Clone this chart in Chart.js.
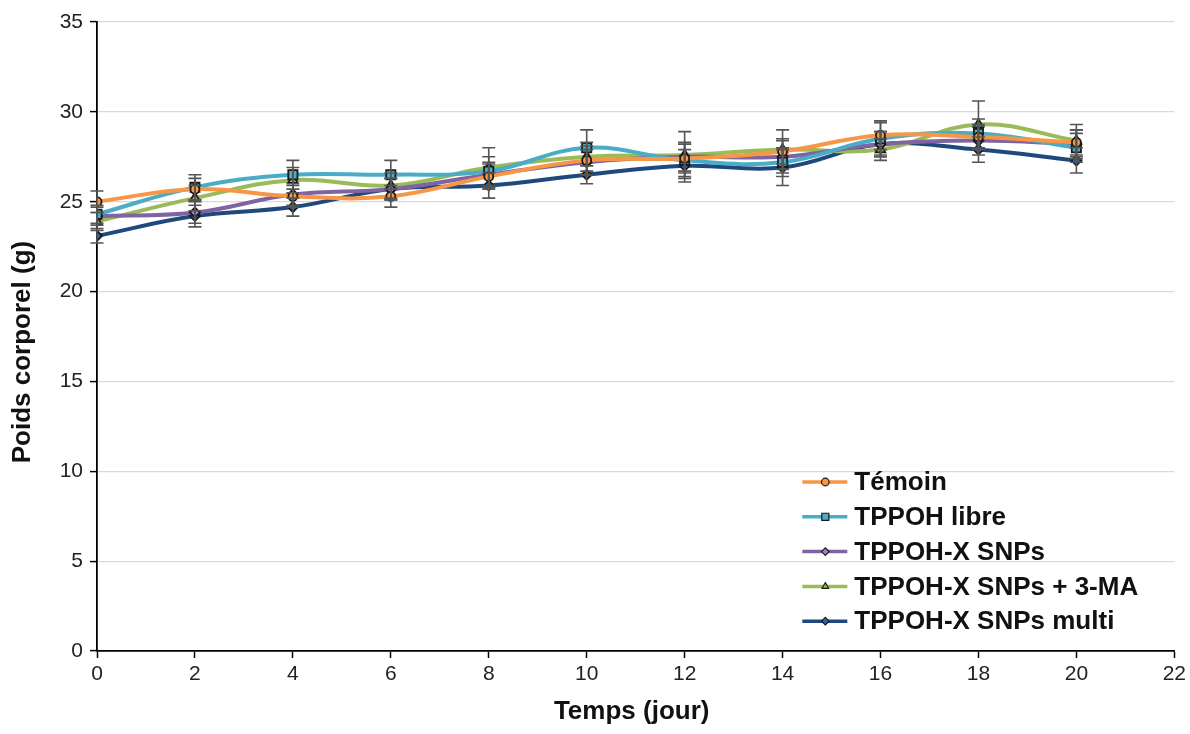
<!DOCTYPE html>
<html>
<head>
<meta charset="utf-8">
<script src="https://cdn.jsdelivr.net/npm/chart.js@4/dist/chart.umd.min.js"></script>
<style>
  html, body { margin: 0; padding: 0; background: #fff; }
  #wrap { width: 1190px; height: 734px; position: relative; }
</style>
</head>
<body>
<div id="wrap"><canvas id="weightChart"></canvas></div>
<script>
// ---------- Data ----------
var days = [0, 2, 4, 6, 8, 10, 12, 14, 16, 18, 20];

var seriesNames = ['Témoin', 'TPPOH libre', 'TPPOH-X SNPs', 'TPPOH-X SNPs + 3-MA', 'TPPOH-X SNPs multi'];

var temoin      = [25.0, 25.7, 25.3, 25.3, 26.4, 27.3, 27.4, 27.8, 28.7, 28.6, 28.3];
var tppohLibre  = [24.3, 25.8, 26.5, 26.5, 26.7, 28.0, 27.3, 27.2, 28.5, 28.8, 28.0];
var tppohX      = [24.2, 24.4, 25.4, 25.7, 26.5, 27.2, 27.5, 27.5, 28.2, 28.4, 28.2];
var tppohX3ma   = [23.9, 25.2, 26.2, 25.9, 26.9, 27.5, 27.6, 27.9, 27.9, 29.3, 28.4];
var tppohXMulti = [23.1, 24.2, 24.7, 25.7, 25.9, 26.5, 27.0, 26.9, 28.2, 27.9, 27.3];

var errTemoin      = [0.6, 0.6, 0.6, 0.6, 0.7, 0.8, 0.8, 0.7, 0.8, 0.7, 0.7];
var errTppohLibre  = [0.5, 0.7, 0.8, 0.8, 0.8, 1.0, 0.9, 0.8, 0.9, 0.8, 0.8];
var errTppohX      = [0.5, 0.6, 0.6, 0.6, 0.7, 0.7, 0.8, 0.9, 0.7, 0.8, 0.8];
var errTppohX3ma   = [0.5, 0.7, 0.7, 0.7, 1.1, 0.8, 1.3, 1.1, 0.6, 1.3, 0.9];
var errTppohXMulti = [0.4, 0.6, 0.5, 0.6, 0.7, 0.5, 0.9, 1.0, 0.7, 0.7, 0.7];

var yTicks = [0, 5, 10, 15, 20, 25, 30, 35];
var xTicks = [0, 2, 4, 6, 8, 10, 12, 14, 16, 18, 20, 22];

var xTitle = 'Temps (jour)';
var yTitle = 'Poids corporel (g)';

// ---------- Styles ----------
var colors = ['#F79646', '#4BACC6', '#8064A2', '#9BBB59', '#1F497D'];
var markerFill = ['#F79646', '#4BACC6', '#A77FC4', '#9BBB59', '#2E62A8'];
var shapes = ['circle', 'rect', 'rectRot', 'triangle', 'rectRot'];
var radii = [4.5, 6.5, 5, 5.5, 5];
var values = [temoin, tppohLibre, tppohX, tppohX3ma, tppohXMulti];
var errors = [errTemoin, errTppohLibre, errTppohX, errTppohX3ma, errTppohXMulti];

var FONT = "'Liberation Sans', Arial, sans-serif";

function toPoints(arr) {
	return arr.map(function (v, i) { return { x: days[i], y: v }; });
}

var datasets = values.map(function (arr, i) {
	return {
		label: seriesNames[i],
		data: toPoints(arr),
		errors: errors[i],
		borderColor: colors[i],
		backgroundColor: markerFill[i],
		borderWidth: 4,
		tension: 0.4,
		pointStyle: shapes[i],
		pointRadius: radii[i],
		pointBorderColor: '#1a1a1a',
		pointBorderWidth: 1.8,
		pointBackgroundColor: markerFill[i]
	};
});

// ---------- Error bars ----------
var errorBarPlugin = {
	id: 'errorBars',
	afterDatasetsDraw: function (chart) {
		var ctx = chart.ctx;
		var ys = chart.scales.y;
		var xs = chart.scales.x;
		ctx.save();
		ctx.strokeStyle = '#555';
		ctx.lineWidth = 1.6;
		chart.data.datasets.forEach(function (ds) {
			ds.data.forEach(function (p, i) {
				var e = ds.errors[i];
				var px = xs.getPixelForValue(p.x);
				var top = ys.getPixelForValue(p.y + e);
				var bot = ys.getPixelForValue(p.y - e);
				ctx.beginPath();
				ctx.moveTo(px, top); ctx.lineTo(px, bot);
				ctx.moveTo(px - 6.5, top); ctx.lineTo(px + 6.5, top);
				ctx.moveTo(px - 6.5, bot); ctx.lineTo(px + 6.5, bot);
				ctx.stroke();
			});
		});
		ctx.restore();
	}
};

// ---------- Legend inside plot + axis titles ----------
var insideLegendPlugin = {
	id: 'insideLegend',
	afterDraw: function (chart) {
		var ctx = chart.ctx;
		var area = chart.chartArea;
		var lx = area.right - 372;
		var ly = area.bottom - 169;
		ctx.save();
		ctx.font = 'bold 26px ' + FONT;
		ctx.textBaseline = 'middle';
		chart.data.datasets.forEach(function (ds, i) {
			var y = ly + i * 34.8;
			ctx.strokeStyle = ds.borderColor;
			ctx.lineWidth = 3.5;
			ctx.beginPath();
			ctx.moveTo(lx, y); ctx.lineTo(lx + 45, y);
			ctx.stroke();
			ctx.fillStyle = ds.pointBackgroundColor;
			ctx.strokeStyle = '#1a1a1a';
			ctx.lineWidth = 1.2;
			Chart.helpers.drawPoint(ctx, {
				pointStyle: ds.pointStyle,
				radius: ds.pointStyle === 'rect' ? 5 : 3.8,
				rotation: 0,
				borderWidth: 1.2
			}, lx + 23, y);
			ctx.fillStyle = '#111';
			ctx.fillText(ds.label, lx + 52, y + 1);
		});

		// axis titles
		ctx.fillStyle = '#111';
		ctx.textAlign = 'center';
		ctx.textBaseline = 'alphabetic';
		ctx.font = 'bold 26px ' + FONT;
		ctx.fillText(xTitle, (area.left + area.right) / 2 - 4, 719);
		ctx.translate(30, 352);
		ctx.rotate(-Math.PI / 2);
		ctx.font = 'bold 26px ' + FONT;
		ctx.fillText(yTitle, 0, 0);
		ctx.restore();
	}
};

var ctx = document.getElementById('weightChart').getContext('2d');
new Chart(ctx, {
	type: 'line',
	data: { datasets: datasets },
	options: {
		responsive: true,
		maintainAspectRatio: false,
		animation: false,
		layout: { padding: { top: 22, right: 15, left: 0, bottom: 0 } },
		plugins: {
			legend: { display: false },
			tooltip: { enabled: false }
		},
		scales: {
			x: {
				type: 'linear',
				min: 0,
				max: 22,
				afterBuildTicks: function (scale) {
					scale.ticks = xTicks.map(function (v) { return { value: v }; });
				},
				afterFit: function (scale) { scale.height = 83; },
				grid: { drawOnChartArea: false, drawTicks: true, tickLength: 7, tickColor: '#000', tickWidth: 1.5 },
				border: { color: '#000', width: 1.8 },
				ticks: { color: '#222', font: { family: FONT, size: 21 }, padding: 4, maxRotation: 0 }
			},
			y: {
				min: 0,
				max: 35,
				afterBuildTicks: function (scale) {
					scale.ticks = yTicks.map(function (v) { return { value: v }; });
				},
				afterFit: function (scale) { scale.width = 97; },
				grid: { color: '#d9d9d9', lineWidth: 1.2, drawTicks: true, tickLength: 7, tickColor: '#000', tickWidth: 1.5 },
				border: { color: '#000', width: 1.8 },
				ticks: { color: '#222', font: { family: FONT, size: 21 }, padding: 7 }
			}
		}
	},
	plugins: [errorBarPlugin, insideLegendPlugin]
});
</script>
</body>
</html>
